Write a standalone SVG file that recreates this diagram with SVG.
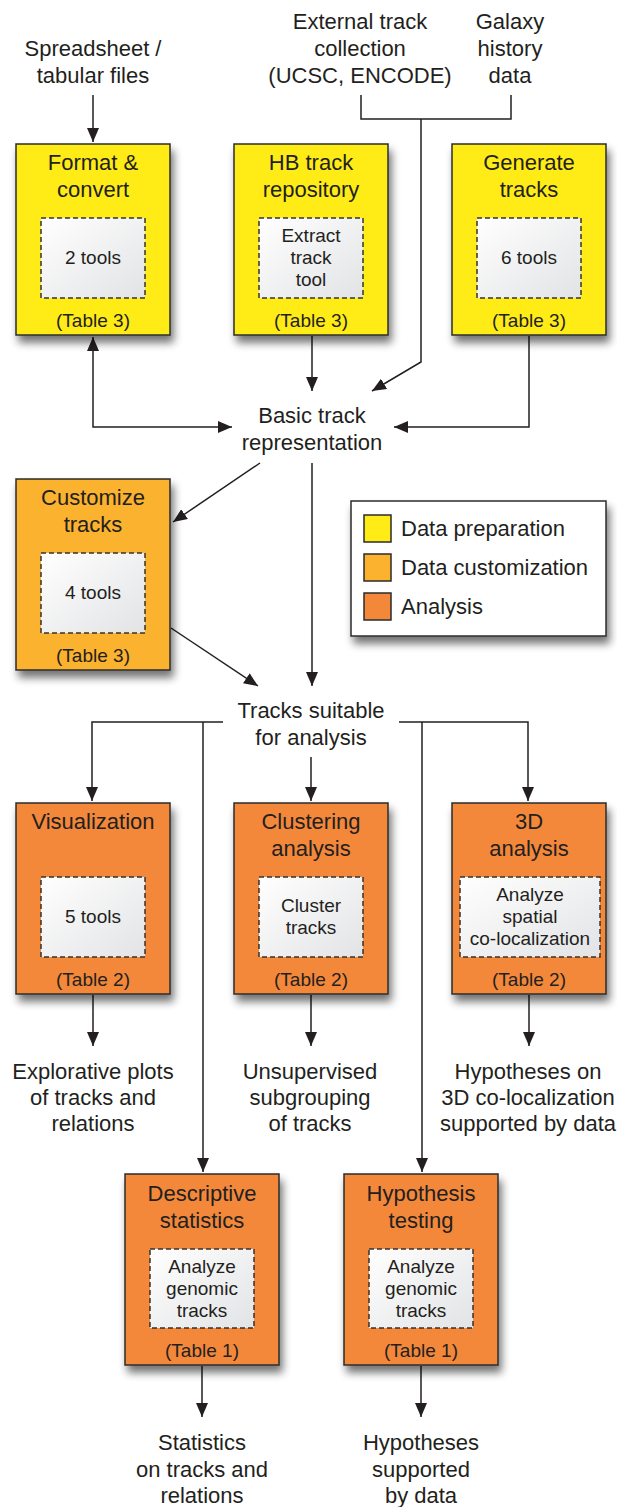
<svg xmlns="http://www.w3.org/2000/svg" width="617" height="1507" viewBox="0 0 617 1507">
<style>
text{font-family:"Liberation Sans",Arial,sans-serif;fill:#231f20;text-anchor:middle}
.t{font-size:22px}
.s{font-size:19px}
.lg{font-size:22px;text-anchor:start}
.box{stroke:#2b2b2b;stroke-width:1.5}
.prep{fill:#ffec16}
.cust{fill:#fbb22e}
.ana{fill:#f3883a}
.inner{fill:url(#ig);stroke:#333;stroke-width:1.5;stroke-dasharray:5,3}
.c{fill:none;stroke:#231f20;stroke-width:1.5}
</style>
<defs>
<linearGradient id="ig" x1="0" y1="0" x2="1" y2="1">
<stop offset="0" stop-color="#ffffff"/>
<stop offset="1" stop-color="#e2e3e5"/>
</linearGradient>
<filter id="sh" x="-20%" y="-20%" width="150%" height="150%">
<feGaussianBlur in="SourceAlpha" stdDeviation="4"/>
<feOffset dx="3" dy="7" result="b"/>
<feComponentTransfer><feFuncA type="linear" slope="0.55"/></feComponentTransfer>
<feMerge><feMergeNode/><feMergeNode in="SourceGraphic"/></feMerge>
</filter>
<marker id="ah" markerWidth="14" markerHeight="12" refX="14" refY="6" orient="auto" markerUnits="userSpaceOnUse">
<path d="M0,0 L14,6 L0,12 Z" fill="#231f20"/>
</marker>
<marker id="as" markerWidth="14" markerHeight="12" refX="14" refY="6" orient="auto-start-reverse" markerUnits="userSpaceOnUse">
<path d="M0,0 L14,6 L0,12 Z" fill="#231f20"/>
</marker>
</defs>

<g id="connectors">
<path class="c" d="M93,95 V142" marker-end="url(#ah)"/>
<path class="c" d="M361,95 V119 H511 V95"/>
<path class="c" d="M421,119 V362 L372,391" marker-end="url(#ah)"/>
<path class="c" d="M312,336 V391" marker-end="url(#ah)"/>
<path class="c" d="M93,337 V427 H232" marker-start="url(#as)" marker-end="url(#ah)"/>
<path class="c" d="M529,336 V427 H394" marker-end="url(#ah)"/>
<path class="c" d="M260,463 L173,522" marker-end="url(#ah)"/>
<path class="c" d="M312,463 V686" marker-end="url(#ah)"/>
<path class="c" d="M171,628 L258,686" marker-end="url(#ah)"/>
<path class="c" d="M223,722 H92 V801" marker-end="url(#ah)"/>
<path class="c" d="M203,722 V1172" marker-end="url(#ah)"/>
<path class="c" d="M399,722 H528 V801" marker-end="url(#ah)"/>
<path class="c" d="M422,722 V1172" marker-end="url(#ah)"/>
<path class="c" d="M311,757 V801" marker-end="url(#ah)"/>
<path class="c" d="M93,995 V1046" marker-end="url(#ah)"/>
<path class="c" d="M311,995 V1046" marker-end="url(#ah)"/>
<path class="c" d="M529,995 V1046" marker-end="url(#ah)"/>
<path class="c" d="M202,1366 V1417" marker-end="url(#ah)"/>
<path class="c" d="M421,1366 V1417" marker-end="url(#ah)"/>
</g>

<g id="lbl-spreadsheet">
<text class="t" x="93" y="56">Spreadsheet /</text>
<text class="t" x="93" y="83">tabular files</text>
</g>
<g id="lbl-external">
<text class="t" x="360" y="29">External track</text>
<text class="t" x="360" y="56">collection</text>
<text class="t" x="360" y="83">(UCSC, ENCODE)</text>
</g>
<g id="lbl-galaxy">
<text class="t" x="510" y="29">Galaxy</text>
<text class="t" x="510" y="56">history</text>
<text class="t" x="510" y="83">data</text>
</g>

<g id="format-convert">
<rect class="box prep" x="16" y="144" width="154" height="191" filter="url(#sh)"/>
<text class="t" x="93" y="170">Format &amp;</text>
<text class="t" x="93" y="197">convert</text>
<rect class="inner" x="41" y="218" width="104" height="80"/>
<text class="s" x="93" y="264">2 tools</text>
<text class="s" x="93" y="327">(Table 3)</text>
</g>
<g id="hb-repository">
<rect class="box prep" x="234" y="144" width="154" height="191" filter="url(#sh)"/>
<text class="t" x="311" y="170">HB track</text>
<text class="t" x="311" y="197">repository</text>
<rect class="inner" x="259" y="218" width="104" height="80"/>
<text class="s" x="311" y="242">Extract</text>
<text class="s" x="311" y="264">track</text>
<text class="s" x="311" y="286">tool</text>
<text class="s" x="311" y="327">(Table 3)</text>
</g>
<g id="generate-tracks">
<rect class="box prep" x="452" y="144" width="154" height="191" filter="url(#sh)"/>
<text class="t" x="529" y="170">Generate</text>
<text class="t" x="529" y="197">tracks</text>
<rect class="inner" x="477" y="218" width="104" height="80"/>
<text class="s" x="529" y="264">6 tools</text>
<text class="s" x="529" y="327">(Table 3)</text>
</g>

<g id="basic-track">
<text class="t" x="312" y="423">Basic track</text>
<text class="t" x="312" y="450">representation</text>
</g>

<g id="customize-tracks">
<rect class="box cust" x="16" y="479" width="154" height="191" filter="url(#sh)"/>
<text class="t" x="93" y="505">Customize</text>
<text class="t" x="93" y="532">tracks</text>
<rect class="inner" x="41" y="553" width="104" height="80"/>
<text class="s" x="93" y="599">4 tools</text>
<text class="s" x="93" y="662">(Table 3)</text>
</g>

<g id="legend">
<rect x="351" y="501" width="255" height="135" fill="#fff" stroke="#2b2b2b" stroke-width="1.5" filter="url(#sh)"/>
<rect class="box prep" x="364" y="515" width="27" height="27"/>
<text class="lg" x="401" y="536">Data preparation</text>
<rect class="box cust" x="364" y="554" width="27" height="27"/>
<text class="lg" x="401" y="575">Data customization</text>
<rect class="box ana" x="364" y="593" width="27" height="27"/>
<text class="lg" x="401" y="614">Analysis</text>
</g>

<g id="tracks-suitable">
<text class="t" x="311" y="718">Tracks suitable</text>
<text class="t" x="311" y="745">for analysis</text>
</g>

<g id="visualization">
<rect class="box ana" x="16" y="803" width="154" height="191" filter="url(#sh)"/>
<text class="t" x="93" y="829">Visualization</text>
<rect class="inner" x="41" y="877" width="104" height="80"/>
<text class="s" x="93" y="923">5 tools</text>
<text class="s" x="93" y="986">(Table 2)</text>
</g>
<g id="clustering">
<rect class="box ana" x="234" y="803" width="154" height="191" filter="url(#sh)"/>
<text class="t" x="311" y="829">Clustering</text>
<text class="t" x="311" y="856">analysis</text>
<rect class="inner" x="259" y="877" width="104" height="80"/>
<text class="s" x="311" y="912">Cluster</text>
<text class="s" x="311" y="934">tracks</text>
<text class="s" x="311" y="986">(Table 2)</text>
</g>
<g id="analysis-3d">
<rect class="box ana" x="452" y="803" width="154" height="191" filter="url(#sh)"/>
<text class="t" x="529" y="829">3D</text>
<text class="t" x="529" y="856">analysis</text>
<rect class="inner" x="460" y="877" width="140" height="80"/>
<text class="s" x="530" y="901">Analyze</text>
<text class="s" x="530" y="923">spatial</text>
<text class="s" x="530" y="945">co-localization</text>
<text class="s" x="529" y="986">(Table 2)</text>
</g>

<g id="out-explorative">
<text class="t" x="93" y="1079">Explorative plots</text>
<text class="t" x="93" y="1105">of tracks and</text>
<text class="t" x="93" y="1131">relations</text>
</g>
<g id="out-unsupervised">
<text class="t" x="310" y="1079">Unsupervised</text>
<text class="t" x="310" y="1105">subgrouping</text>
<text class="t" x="310" y="1131">of tracks</text>
</g>
<g id="out-3d">
<text class="t" x="528" y="1079">Hypotheses on</text>
<text class="t" x="528" y="1105">3D co-localization</text>
<text class="t" x="528" y="1131">supported by data</text>
</g>

<g id="descriptive">
<rect class="box ana" x="125" y="1174" width="154" height="191" filter="url(#sh)"/>
<text class="t" x="202" y="1201">Descriptive</text>
<text class="t" x="202" y="1228">statistics</text>
<rect class="inner" x="150" y="1249" width="104" height="79"/>
<text class="s" x="202" y="1273">Analyze</text>
<text class="s" x="202" y="1295">genomic</text>
<text class="s" x="202" y="1317">tracks</text>
<text class="s" x="202" y="1357">(Table 1)</text>
</g>
<g id="hypothesis">
<rect class="box ana" x="344" y="1174" width="154" height="191" filter="url(#sh)"/>
<text class="t" x="421" y="1201">Hypothesis</text>
<text class="t" x="421" y="1228">testing</text>
<rect class="inner" x="369" y="1249" width="104" height="79"/>
<text class="s" x="421" y="1273">Analyze</text>
<text class="s" x="421" y="1295">genomic</text>
<text class="s" x="421" y="1317">tracks</text>
<text class="s" x="421" y="1357">(Table 1)</text>
</g>

<g id="out-statistics">
<text class="t" x="202" y="1450">Statistics</text>
<text class="t" x="202" y="1477">on tracks and</text>
<text class="t" x="202" y="1503">relations</text>
</g>
<g id="out-hypotheses">
<text class="t" x="421" y="1450">Hypotheses</text>
<text class="t" x="421" y="1477">supported</text>
<text class="t" x="421" y="1503">by data</text>
</g>
</svg>
